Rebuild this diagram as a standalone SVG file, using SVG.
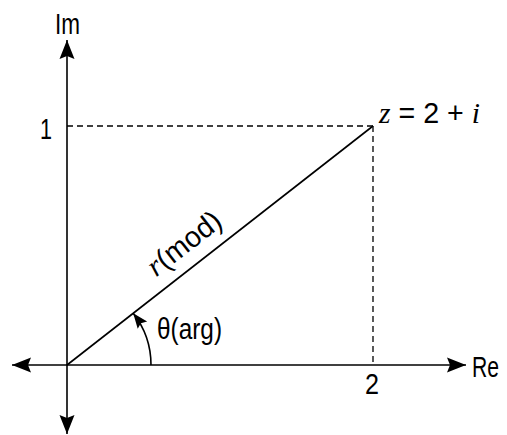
<svg xmlns="http://www.w3.org/2000/svg" width="507" height="435" viewBox="0 0 507 435">
<style>
.ax{stroke:#000;stroke-width:1.6;fill:none}
.dash{stroke:#000;stroke-width:1.3;fill:none;stroke-dasharray:6 4}
.t{font-family:"Liberation Sans","DejaVu Sans",sans-serif;font-size:29px;fill:#000}
.m{font-family:"Liberation Serif","DejaVu Serif",serif;font-style:italic;font-size:30px}
</style>
<defs>
<marker id="ah" markerUnits="userSpaceOnUse" viewBox="-1 -9 22 18" refX="19" refY="0" markerWidth="22" markerHeight="18" orient="auto-start-reverse">
<path d="M0,-7.5 L19,0 L0,7.5 L3,0 Z" fill="#000"/>
</marker>
<marker id="ah2" markerUnits="userSpaceOnUse" viewBox="-1 -7 17 14" refX="15" refY="0" markerWidth="17" markerHeight="14" orient="auto">
<path d="M0,-6 L15,0 L0,6 L2.5,0 Z" fill="#000"/>
</marker>
</defs>
<g id="connectors">
<line class="ax" x1="67" y1="434" x2="67" y2="40" marker-start="url(#ah)" marker-end="url(#ah)"/>
<line class="ax" x1="12" y1="365" x2="466" y2="365" marker-start="url(#ah)" marker-end="url(#ah)"/>
<line class="dash" x1="67" y1="126" x2="373" y2="126"/>
<line class="dash" x1="373" y1="126" x2="373" y2="365"/>
<line class="ax" x1="67" y1="365" x2="373" y2="126"/>
<path class="ax" d="M151,365 A84,84 0 0 0 133.2,313.3" marker-end="url(#ah2)"/>
</g>
<g id="label-im"><text class="t" x="55" y="34" textLength="25" lengthAdjust="spacingAndGlyphs">Im</text></g>
<g id="label-re"><text class="t" transform="translate(472,377) scale(0.73,1)">Re</text></g>
<g id="label-1"><text class="t" x="40" y="139" textLength="12" lengthAdjust="spacingAndGlyphs">1</text></g>
<g id="label-2"><text class="t" x="365" y="394" textLength="14" lengthAdjust="spacingAndGlyphs">2</text></g>
<g id="label-z"><text class="t" x="379" y="123" textLength="101" lengthAdjust="spacingAndGlyphs"><tspan class="m">z</tspan> = 2 + <tspan class="m">i</tspan></text></g>
<g id="label-mod"><text class="t" transform="translate(190,251) rotate(-38)" text-anchor="middle" textLength="86" lengthAdjust="spacingAndGlyphs"><tspan class="m">r</tspan>(mod)</text></g>
<g id="label-arg"><text class="t" x="157" y="339" textLength="65" lengthAdjust="spacingAndGlyphs">θ(arg)</text></g>
</svg>
